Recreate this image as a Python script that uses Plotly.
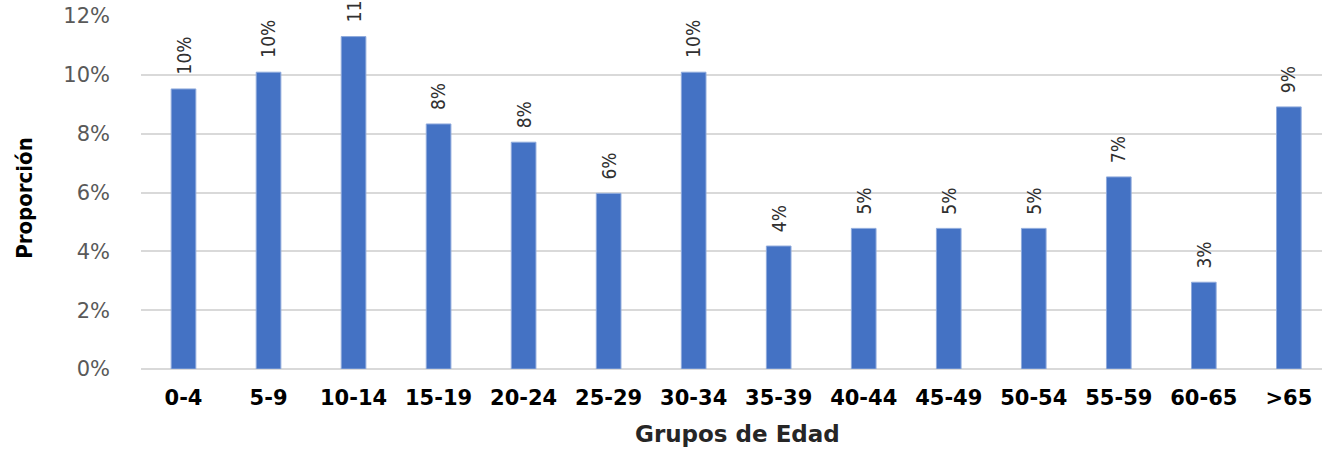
import plotly.graph_objects as go

categories = ["0-4", "5-9", "10-14", "15-19", "20-24", "25-29", "30-34",
              "35-39", "40-44", "45-49", "50-54", "55-59", "60-65", ">65"]
values = [0.0952, 0.1009, 0.1130, 0.0833, 0.0771, 0.0597, 0.1009,
          0.0418, 0.0478, 0.0478, 0.0478, 0.0653, 0.0295, 0.0891]
labels = ["10%", "10%", "11%", "8%", "8%", "6%", "10%",
          "4%", "5%", "5%", "5%", "7%", "3%", "9%"]
y_ticks = [0, 0.02, 0.04, 0.06, 0.08, 0.10, 0.12]
y_tick_labels = ["0%", "2%", "4%", "6%", "8%", "10%", "12%"]

BAR = "#4472C4"
narrow = "Liberation Sans Narrow, DejaVu Sans Condensed, Arial Narrow, sans-serif"
wide = "DejaVu Sans, Verdana, sans-serif"

fig = go.Figure()
fig.add_trace(go.Bar(
    x=categories, y=values, width=0.29,
    marker=dict(color=BAR, line=dict(color="#8FAADC", width=1)),
    hoverinfo="skip",
))

annotations = []
for c, v, t in zip(categories, values, labels):
    annotations.append(dict(
        x=c, y=v, xref="x", yref="y", text=t, showarrow=False,
        textangle=-90, xanchor="center", yanchor="bottom", yshift=12,
        font=dict(family=narrow, size=19, color="#303030"),
    ))

annotations.append(dict(
    text="<b>Proporción</b>", xref="paper", yref="paper",
    x=-0.0982, y=0.485, showarrow=False, textangle=-90,
    xanchor="center", yanchor="middle",
    font=dict(family=narrow, size=22, color="#000000"),
))
annotations.append(dict(
    text="<b>Grupos de Edad</b>", xref="paper", yref="paper",
    x=0.5047, y=-0.185, showarrow=False,
    xanchor="center", yanchor="middle",
    font=dict(family=wide, size=23, color="#262626"),
))

fig.update_layout(
    width=1322, height=449,
    margin=dict(l=141, r=0, t=16, b=80),
    paper_bgcolor="white", plot_bgcolor="white",
    showlegend=False,
    annotations=annotations,
    xaxis=dict(
        range=[-0.5, 13.39], showgrid=False, zeroline=False,
        showline=False, ticks="",
        tickfont=dict(family=wide, size=21, color="#000000", weight="bold"),
        ticklabelstandoff=14,
    ),
    yaxis=dict(
        range=[0, 0.12], tickvals=y_ticks, ticktext=y_tick_labels,
        showgrid=True, gridcolor="#D9D9D9", gridwidth=1.5,
        zeroline=True, zerolinecolor="#D9D9D9", zerolinewidth=1.5,
        showline=False, ticks="",
        tickfont=dict(family=wide, size=21, color="#595959"),
        ticklabelstandoff=30,
    ),
)

fig.write_html("out.html", config={"displayModeBar": False},
               post_script="document.body.style.margin='0';document.body.style.overflow='hidden';")
